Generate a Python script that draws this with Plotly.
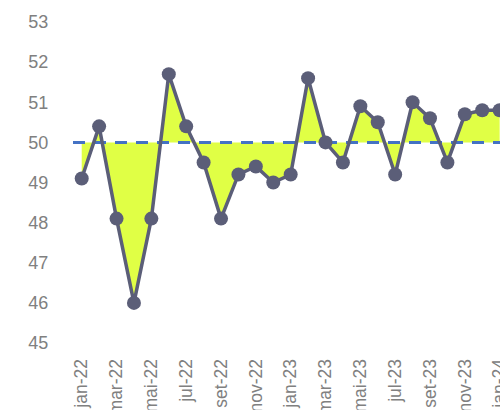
import plotly.graph_objects as go

months = ["jan-22", "fev-22", "mar-22", "abr-22", "mai-22", "jun-22", "jul-22", "ago-22",
          "set-22", "out-22", "nov-22", "dez-22", "jan-23", "fev-23", "mar-23", "abr-23",
          "mai-23", "jun-23", "jul-23", "ago-23", "set-23", "out-23", "nov-23", "dez-23",
          "jan-24"]
values = [49.1, 50.4, 48.1, 46.0, 48.1, 51.7, 50.4, 49.5, 48.1, 49.2, 49.4, 49.0,
          49.2, 51.6, 50.0, 49.5, 50.9, 50.5, 49.2, 51.0, 50.6, 49.5, 50.7, 50.8, 50.8]
threshold = 50
y_ticks = [45, 46, 47, 48, 49, 50, 51, 52, 53]

idx = list(range(len(months)))
tick_idx = idx[::2]
tick_txt = months[::2]

LINE = "#5b5e78"
FILL = "#e0ff45"
DASH = "#4472c4"

fig = go.Figure()
fig.add_trace(go.Scatter(x=idx, y=[threshold] * len(idx), mode="lines",
                         line=dict(width=0, color=FILL), hoverinfo="skip", showlegend=False))
fig.add_trace(go.Scatter(x=idx, y=values, mode="lines", fill="tonexty", fillcolor=FILL,
                         line=dict(width=0, color=FILL), hoverinfo="skip", showlegend=False))
fig.add_trace(go.Scatter(x=[-0.5, len(idx) + 5], y=[threshold, threshold], mode="lines",
                         line=dict(color=DASH, width=3, dash="12px,9px"), showlegend=False))
fig.add_trace(go.Scatter(x=idx, y=values, mode="lines+markers",
                         line=dict(color=LINE, width=3.5),
                         marker=dict(color=LINE, size=14), showlegend=False))

fig.update_layout(
    width=500, height=410,
    margin=dict(l=73, r=0, t=22, b=67),
    plot_bgcolor="white", paper_bgcolor="white",
    font=dict(family="Liberation Sans, Arial, sans-serif", color="#808080"),
    xaxis=dict(range=[-0.5, 24.02], tickmode="array", tickvals=tick_idx, ticktext=tick_txt,
               tickangle=-90, showgrid=False, zeroline=False, showline=False,
               automargin=False, ticklabeloverflow="allow",
               tickfont=dict(size=17.5, color="#808080"), ticks="outside", ticklen=8,
               tickcolor="rgba(0,0,0,0)"),
    yaxis=dict(range=[45, 53], tickmode="array", tickvals=y_ticks, showgrid=False,
               automargin=False,
               zeroline=False, showline=False, tickfont=dict(size=18, color="#808080"),
               ticks="outside", ticklen=20, tickcolor="rgba(0,0,0,0)"),
)

fig.write_html("out.html")
